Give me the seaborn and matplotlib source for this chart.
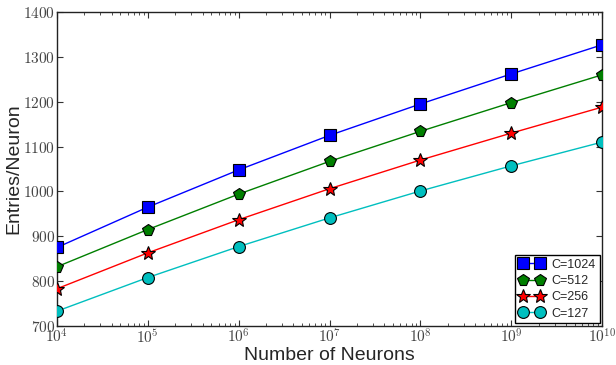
import numpy as np
import pandas as pd
import matplotlib
matplotlib.use('Agg')
import matplotlib.pyplot as plt
import matplotlib.ticker as mticker
import seaborn as sns

neurons = [1e4, 1e5, 1e6, 1e7, 1e8, 1e9, 1e10]
c1024 = [875, 965, 1048, 1125, 1195, 1262, 1327]
c512 = [832, 915, 994, 1067, 1134, 1198, 1260]
c256 = [783, 863, 937, 1006, 1070, 1130, 1188]
c127 = [733, 808, 877, 941, 1001, 1057, 1110]
labels = ['C=1024', 'C=512', 'C=256', 'C=127']

df = pd.concat([
    pd.DataFrame({'neurons': neurons, 'entries': vals, 'series': lab})
    for vals, lab in zip([c1024, c512, c256, c127], labels)
])

sns.set_style('ticks')
plt.rcParams['font.family'] = ['Liberation Sans', 'DejaVu Sans']
plt.rcParams['mathtext.fontset'] = 'cm'
plt.rcParams['xtick.direction'] = 'in'
plt.rcParams['ytick.direction'] = 'in'

fig = plt.figure(figsize=(6.16, 3.65), dpi=100)
ax = fig.add_axes([0.0925, 0.107, 0.885, 0.86])

palette = {'C=1024': '#0000ff', 'C=512': '#007f00', 'C=256': '#ff0000', 'C=127': '#00bfbf'}
markers = {'C=1024': 's', 'C=512': 'p', 'C=256': '*', 'C=127': 'o'}
sizes = {'C=1024': 8.5, 'C=512': 8.5, 'C=256': 10, 'C=127': 8.5}

for lab in labels:
    sub = df[df['series'] == lab]
    sns.lineplot(data=sub, x='neurons', y='entries', ax=ax, color=palette[lab],
                 marker=markers[lab], markersize=sizes[lab], markeredgecolor='black',
                 markeredgewidth=0.8, linewidth=1, label=lab, zorder=3)

ax.set_xscale('log')
ax.set_xlim(1e4, 1e10)
ax.set_ylim(700, 1400)
ax.yaxis.set_major_locator(mticker.MultipleLocator(100))
ax.xaxis.set_major_locator(mticker.LogLocator(base=10, numticks=20))
ax.xaxis.set_minor_locator(mticker.LogLocator(base=10, subs=np.arange(2, 10), numticks=20))
ax.xaxis.set_major_formatter(mticker.FuncFormatter(lambda v, p: r'$10^{%d}$' % round(np.log10(v))))
ax.yaxis.set_major_formatter(mticker.FuncFormatter(lambda v, p: r'$%d$' % v))
ax.tick_params(which='both', top=True, right=True, labelsize=11, labelcolor='#444444',
               color='#333333', pad=1.5)
ax.tick_params(which='major', length=4)
ax.tick_params(which='minor', length=2)
for s in ax.spines.values():
    s.set_color('#222222')
    s.set_linewidth(1)

ax.set_xlabel('Number of Neurons', fontsize=14)
ax.set_ylabel('Entries/Neuron', fontsize=14)
ax.xaxis.set_label_coords(0.5, -0.068)
ax.yaxis.set_label_coords(-0.063, 0.5)

leg = ax.legend(loc='lower right', numpoints=2, fontsize=9, frameon=True, fancybox=False,
                handlelength=2.0, borderpad=0.3, labelspacing=0.35, handletextpad=0.6,
                borderaxespad=0.2, framealpha=1)
leg.get_frame().set_edgecolor('black')
leg.get_frame().set_linewidth(1)

fig.savefig('out.png', dpi=100)
